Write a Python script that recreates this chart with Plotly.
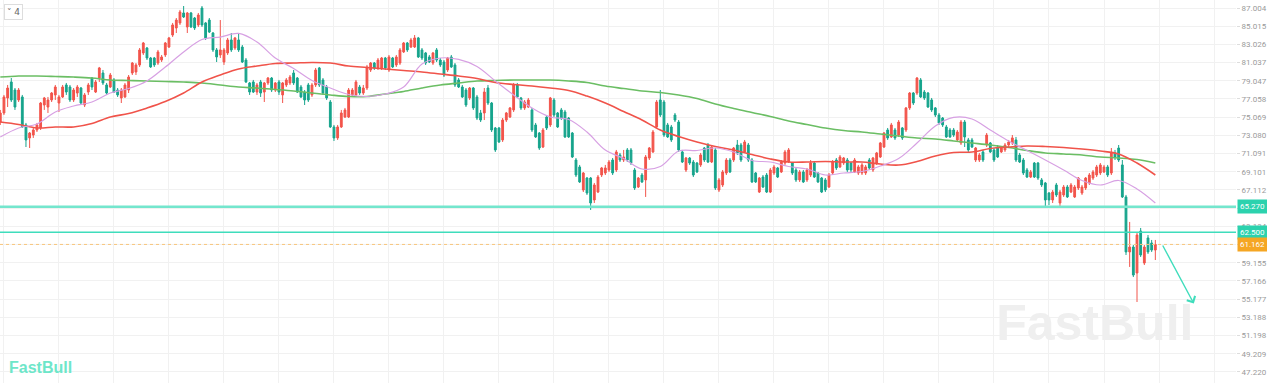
import plotly.graph_objects as go

# ---------------- data (prices) ----------------
opens = [
 74.54, 75.53, 77.17, 78.92, 78.04, 76.95, 77.28, 74.22, 72.80, 73.12, 73.67, 73.89, 76.40, 76.18, 76.95, 77.50, 76.62, 77.28, 78.59, 78.37,
 76.95, 77.71, 78.26, 76.40, 77.82, 79.35, 77.82, 79.35, 79.90, 78.59, 78.37, 79.14, 78.04, 77.17, 77.28, 78.04, 79.90, 80.01, 80.78, 82.09,
 82.63, 81.54, 81.54, 80.99, 81.32, 81.87, 82.74, 84.05, 84.82, 85.37, 86.46, 84.93, 86.46, 85.91, 85.15, 87.00, 85.37, 85.69, 84.27, 82.42,
 81.87, 81.10, 82.09, 83.51, 82.63, 83.51, 82.74, 81.32,
 78.81, 78.92, 77.82, 78.92, 77.82, 78.81, 79.35, 78.04, 78.92, 77.50, 78.59, 78.81, 79.90, 79.35, 78.37, 77.82, 78.59, 77.50, 78.59, 80.45,
 79.14, 78.37, 76.73, 74.00, 72.80, 74.00, 75.09, 75.09, 77.50, 77.50, 78.37, 77.71, 78.26, 80.23, 80.99, 80.45, 80.45, 81.54, 80.23, 81.54,
 80.78, 80.99, 82.20, 83.18, 82.74, 82.74, 83.73, 82.42, 82.09, 81.65, 80.99, 82.42, 81.32, 81.10, 80.23, 81.65, 80.78, 79.14, 78.37, 78.04,
 77.17, 78.26, 77.28, 75.53, 75.53,
 78.26, 76.62, 73.89, 73.89, 72.58, 74.76, 75.09, 75.86, 78.59, 77.17, 76.08, 76.18, 75.86, 74.22, 73.34, 71.81, 75.09, 74.22, 76.95, 75.53,
 75.86, 75.64, 74.98, 73.34, 70.39, 69.63, 67.11, 68.42, 68.42, 66.02, 66.89, 68.75, 68.97, 69.30, 70.39, 69.30, 70.94, 70.39, 71.49, 71.49,
 69.30, 67.44, 68.75, 68.21, 70.61, 71.27, 74.00, 76.95, 76.73, 74.22, 74.00, 75.31, 74.54, 71.27, 69.30, 70.61, 70.17, 70.06, 69.85, 71.70,
 72.03, 70.17, 71.49, 67.11, 67.66, 68.97,
 70.39, 70.39, 72.03, 72.03, 71.27, 72.03, 70.39, 68.97, 66.89, 68.53, 68.75, 66.89, 68.97, 69.52, 69.08, 70.06, 70.17, 70.06, 69.30, 68.21,
 69.08, 68.21, 68.75, 70.06, 68.97, 68.42, 68.21, 67.44, 68.97, 70.39, 69.63, 70.06, 70.39, 70.06, 69.08, 68.97, 68.97, 68.97, 70.39, 69.30,
 70.06, 70.72, 71.81, 73.67, 72.91, 73.67, 73.12, 73.89, 73.67, 76.08, 77.71, 77.71, 79.14, 77.82, 77.71, 76.95, 76.08, 75.31, 74.98, 74.00,
 73.67, 73.67, 72.58, 72.25, 74.54,
 72.58, 72.58, 70.39, 70.39, 71.27, 72.03, 72.25, 71.49, 71.81, 71.27, 71.49, 72.03, 72.25, 72.58, 70.94, 70.39, 69.30, 68.53, 70.06, 70.06,
 68.21, 67.88, 66.78, 66.02, 67.66, 65.69, 66.57, 67.44, 66.89, 66.35, 67.33, 66.78, 67.33, 67.88, 68.42, 68.75, 68.97, 69.08, 69.63, 68.97,
 71.16, 71.70, 69.85, 66.35, 60.34, 60.88, 58.04, 62.63, 59.13, 61.87, 61.32, 60.55,
]
highs = [
 75.86, 77.50, 78.59, 79.35, 78.26, 78.26, 77.50, 74.44, 73.45, 73.89, 74.44, 76.73, 77.28, 77.28, 77.82, 78.59, 77.50, 78.59, 78.81, 78.59,
 78.26, 78.59, 78.37, 77.71, 78.81, 79.46, 79.14, 80.56, 80.23, 78.81, 79.90, 79.35, 78.26, 78.26, 78.81, 79.68, 81.10, 80.99, 82.63, 83.29,
 82.74, 81.65, 81.65, 82.42, 81.87, 83.29, 83.84, 85.37, 85.91, 86.79, 87.22, 86.57, 86.57, 86.02, 86.46, 87.22, 85.48, 85.91, 84.38, 82.63,
 85.69, 82.63, 83.73, 84.27, 83.84, 84.27, 82.96, 81.54,
 78.92, 79.14, 78.81, 79.14, 78.92, 79.46, 79.46, 78.92, 79.14, 78.92, 79.35, 79.68, 80.23, 79.46, 78.59, 78.04, 78.81, 78.81, 80.45, 80.56,
 79.35, 78.59, 76.95, 74.22, 74.22, 75.86, 76.08, 78.26, 78.26, 79.14, 78.59, 78.59, 80.78, 81.10, 81.10, 81.54, 81.65, 81.65, 81.87, 81.65,
 81.87, 82.63, 83.29, 83.29, 83.73, 84.05, 83.84, 82.63, 82.20, 81.87, 82.20, 82.63, 81.54, 81.32, 81.65, 81.87, 80.99, 79.35, 78.59, 78.26,
 78.37, 78.37, 77.50, 75.86, 78.26,
 78.59, 76.73, 74.00, 74.00, 74.98, 75.64, 76.18, 78.81, 78.81, 77.28, 76.95, 77.17, 76.08, 74.44, 73.45, 73.89, 75.31, 77.28, 77.17, 75.64,
 76.08, 75.86, 75.09, 73.45, 70.61, 69.85, 69.08, 68.53, 68.53, 67.88, 68.75, 69.63, 69.85, 70.39, 70.61, 71.49, 71.16, 71.49, 71.70, 71.70,
 69.52, 68.53, 68.97, 70.94, 71.81, 73.67, 76.95, 78.04, 76.95, 74.44, 74.22, 75.53, 74.76, 71.49, 70.72, 70.72, 70.39, 70.17, 71.16, 71.81,
 72.25, 72.03, 71.70, 68.42, 69.30, 70.61,
 70.61, 71.81, 72.58, 72.25, 72.58, 72.25, 70.61, 69.08, 68.53, 68.75, 68.97, 69.52, 69.85, 69.63, 70.39, 71.49, 71.70, 70.17, 69.52, 69.30,
 69.30, 69.52, 70.39, 70.17, 69.08, 68.53, 68.42, 68.97, 70.39, 70.61, 70.94, 70.72, 70.61, 70.17, 70.61, 69.85, 70.06, 69.85, 70.61, 70.72,
 71.27, 72.36, 73.45, 73.89, 74.44, 73.89, 74.76, 74.00, 76.18, 77.82, 77.82, 79.46, 79.35, 78.04, 77.82, 77.17, 76.18, 75.53, 75.09, 74.22,
 73.89, 73.89, 73.67, 74.76, 74.76,
 72.80, 72.80, 71.81, 71.16, 71.49, 73.34, 72.36, 71.70, 72.03, 71.81, 72.25, 72.58, 73.12, 72.91, 71.16, 70.61, 69.52, 69.30, 70.17, 70.17,
 68.42, 67.99, 66.89, 67.11, 67.88, 67.11, 67.66, 67.66, 67.88, 67.66, 68.53, 67.66, 68.53, 68.97, 69.30, 69.85, 70.06, 69.85, 69.85, 71.70,
 71.49, 72.03, 70.39, 66.57, 63.62, 61.10, 62.41, 62.96, 61.10, 62.19, 61.65, 61.65,
]
lows = [
 74.22, 75.31, 76.18, 76.73, 75.86, 76.73, 73.89, 71.81, 71.70, 72.80, 73.45, 73.67, 75.86, 75.53, 76.73, 76.95, 75.64, 77.17, 77.50, 76.73,
 76.73, 77.28, 76.40, 76.18, 77.50, 78.04, 77.71, 78.92, 78.59, 77.50, 78.26, 77.71, 77.28, 76.62, 77.17, 77.71, 79.68, 79.68, 80.56, 81.87,
 81.32, 80.45, 80.56, 80.78, 81.10, 81.65, 82.63, 83.84, 84.27, 85.15, 85.91, 84.27, 84.82, 84.60, 84.93, 84.93, 83.51, 84.27, 82.20, 81.10,
 81.54, 80.78, 81.87, 82.20, 82.42, 82.20, 80.99, 78.81,
 77.50, 77.71, 77.50, 77.28, 76.73, 78.59, 77.82, 77.82, 77.50, 76.62, 78.37, 78.59, 78.59, 77.71, 77.17, 76.40, 76.73, 77.28, 78.37, 78.37,
 77.50, 76.95, 73.89, 72.47, 72.58, 73.89, 74.98, 74.98, 77.28, 77.28, 77.50, 77.50, 78.04, 80.01, 80.23, 80.23, 80.23, 80.23, 80.01, 80.45,
 80.56, 80.78, 82.09, 82.20, 82.63, 82.63, 81.54, 81.32, 80.78, 80.99, 80.78, 81.10, 80.56, 79.46, 80.01, 80.45, 78.37, 78.26, 77.17, 76.18,
 76.95, 75.86, 74.76, 74.54, 74.76,
 76.40, 73.45, 71.27, 72.25, 72.36, 74.54, 74.98, 75.64, 77.17, 75.86, 75.86, 76.08, 73.45, 72.80, 71.49, 71.70, 73.67, 74.00, 75.09, 73.89,
 74.76, 72.80, 72.80, 70.61, 68.53, 67.88, 66.89, 66.57, 64.93, 65.69, 66.78, 68.53, 68.75, 69.08, 68.75, 69.08, 70.17, 70.17, 70.17, 69.85,
 67.11, 67.33, 67.88, 66.35, 70.39, 71.16, 73.89, 75.09, 72.91, 72.80, 72.36, 74.54, 71.27, 70.06, 69.08, 69.85, 68.53, 68.97, 69.63, 70.17,
 70.06, 70.06, 67.11, 66.89, 67.44, 68.75,
 68.97, 70.17, 70.94, 70.17, 71.16, 70.17, 67.88, 67.88, 66.78, 67.33, 66.78, 66.78, 68.75, 68.42, 68.97, 69.85, 70.06, 68.75, 67.99, 67.99,
 67.88, 67.99, 68.53, 68.42, 67.88, 66.78, 66.89, 67.33, 68.75, 69.30, 69.52, 69.85, 69.08, 69.08, 68.97, 68.75, 68.75, 68.75, 69.30, 69.08,
 69.85, 70.61, 71.70, 72.58, 72.80, 72.58, 72.91, 72.58, 73.45, 75.86, 76.40, 77.50, 77.17, 76.95, 76.08, 75.64, 75.09, 74.22, 74.00, 72.80,
 72.80, 72.91, 72.36, 72.03, 71.81,
 71.27, 71.70, 70.17, 70.17, 70.17, 71.81, 71.16, 70.17, 70.61, 71.16, 71.27, 71.81, 72.03, 70.17, 70.06, 68.75, 68.42, 68.42, 68.42, 68.21,
 67.44, 65.15, 65.47, 65.69, 66.35, 65.15, 66.35, 66.24, 66.78, 66.24, 67.11, 66.57, 67.11, 67.66, 68.21, 68.53, 68.75, 68.97, 68.53, 68.75,
 70.39, 70.17, 66.24, 60.01, 58.70, 57.60, 54.87, 59.79, 58.91, 60.12, 60.34, 59.46,
]
closes = [
 75.53, 77.28, 78.26, 76.95, 76.18, 78.04, 74.00, 72.58, 73.34, 73.67, 74.22, 76.62, 77.17, 76.95, 77.71, 78.37, 77.28, 78.37, 77.82, 76.95,
 78.04, 78.37, 76.62, 77.50, 78.59, 78.37, 78.92, 80.45, 78.81, 77.71, 79.68, 77.82, 77.50, 78.04, 78.59, 79.46, 80.99, 80.78, 82.42, 83.18,
 81.54, 80.56, 80.78, 82.20, 81.65, 83.18, 83.73, 85.15, 85.69, 86.57, 86.02, 86.46, 84.93, 84.82, 86.24, 85.15, 83.73, 84.38, 82.42, 81.65,
 82.42, 82.42, 83.51, 82.42, 83.73, 82.42, 81.10, 78.92,
 77.82, 77.82, 78.59, 77.71, 78.81, 79.35, 78.04, 78.81, 77.82, 78.81, 79.14, 79.46, 78.81, 77.82, 77.28, 76.95, 76.95, 78.59, 80.23, 78.59,
 77.71, 77.17, 74.00, 72.80, 74.00, 75.53, 75.86, 78.04, 78.04, 78.92, 77.71, 78.26, 80.56, 80.99, 80.45, 81.32, 81.54, 80.45, 81.65, 80.56,
 81.65, 82.42, 83.18, 82.42, 83.51, 83.73, 81.65, 81.54, 80.99, 81.10, 82.09, 81.32, 80.78, 79.68, 81.54, 80.56, 78.59, 78.37, 77.28, 76.40,
 78.26, 76.08, 74.98, 74.76, 77.82,
 76.62, 73.67, 71.49, 72.36, 74.76, 75.53, 76.08, 78.59, 77.28, 76.08, 76.73, 76.95, 73.67, 72.91, 71.70, 73.67, 73.89, 77.17, 75.31, 74.00,
 74.98, 72.91, 72.91, 70.72, 68.75, 67.99, 68.97, 66.78, 65.69, 67.66, 68.53, 69.52, 69.52, 70.17, 68.97, 71.27, 70.39, 70.72, 70.39, 70.06,
 67.33, 68.42, 67.99, 70.72, 71.70, 73.45, 76.73, 75.31, 73.12, 72.91, 72.58, 74.76, 71.49, 70.17, 70.61, 70.06, 68.75, 69.08, 70.94, 70.39,
 70.17, 71.81, 67.33, 68.21, 69.08, 70.39,
 69.08, 71.70, 71.16, 70.39, 72.36, 70.39, 67.99, 67.99, 68.42, 67.44, 66.89, 69.30, 69.63, 68.53, 70.17, 71.27, 71.49, 68.97, 68.21, 69.08,
 67.99, 69.30, 70.06, 68.53, 67.99, 66.89, 67.11, 68.75, 70.17, 69.52, 70.72, 70.61, 69.30, 69.30, 70.39, 69.63, 69.85, 69.63, 69.52, 70.61,
 71.16, 72.25, 73.34, 72.80, 74.22, 72.80, 74.54, 72.80, 76.08, 77.71, 76.62, 79.35, 77.28, 77.17, 76.18, 75.86, 75.31, 74.44, 74.22, 72.91,
 72.91, 73.12, 73.45, 74.54, 72.91,
 71.49, 71.81, 71.70, 70.94, 70.39, 73.12, 71.27, 70.39, 70.72, 71.70, 72.03, 72.36, 72.80, 70.39, 70.17, 68.97, 68.53, 69.08, 68.53, 68.42,
 67.66, 66.02, 66.02, 66.89, 66.57, 66.89, 67.44, 66.35, 67.66, 67.44, 68.42, 67.44, 68.42, 68.75, 69.08, 69.63, 69.85, 69.63, 68.75, 71.16,
 70.72, 70.39, 66.35, 60.34, 60.88, 57.82, 62.19, 60.01, 60.88, 60.34, 60.55, 61.16,
]

# moving averages, sampled every 5th candle
ma_step = 5
ma_fast = [72.90, 73.89, 74.32, 75.64, 76.29, 76.73, 77.71, 78.20, 79.03, 80.55, 82.19, 83.56, 83.83, 84.22, 83.29, 81.54,
           80.39, 79.08, 78.26, 77.55, 77.33, 77.60, 78.37, 80.88, 81.54, 81.38, 80.61, 79.03, 77.50, 76.07, 75.09, 74.82,
           73.45, 71.48, 70.55, 69.41, 69.68, 71.37, 71.43, 71.70, 71.26, 70.34, 70.17, 69.68, 69.41, 68.75, 68.97, 69.13,
           69.73, 70.55, 72.25, 74.10, 75.04, 74.87, 73.67, 72.47, 71.43, 70.39, 69.30, 68.15, 67.66, 68.15, 67.22, 65.69]
ma_mid = [74.54, 74.27, 73.89, 74.00, 74.00, 74.38, 75.09, 75.47, 76.07, 76.78, 77.71, 78.91, 79.68, 80.34, 80.66, 80.94,
          80.99, 81.05, 80.99, 80.66, 80.50, 80.34, 80.17, 80.01, 79.79, 79.57, 79.30, 78.86, 78.64, 78.48, 78.26, 77.99,
          77.38, 76.62, 75.69, 74.76, 73.67, 72.96, 72.36, 71.87, 71.48, 70.99, 70.50, 70.17, 70.17, 70.23, 70.17, 70.17,
          69.95, 69.84, 70.23, 70.83, 71.21, 71.26, 71.65, 71.81, 71.92, 71.87, 71.76, 71.59, 71.37, 71.05, 70.06, 68.75]
ma_slow = [79.46, 79.57, 79.57, 79.52, 79.46, 79.35, 79.13, 79.08, 79.03, 78.97, 78.91, 78.81, 78.59, 78.37, 78.26, 78.10,
           77.93, 77.71, 77.50, 77.33, 77.33, 77.60, 77.88, 78.26, 78.59, 78.81, 79.03, 79.08, 79.13, 79.13, 79.13, 79.03,
           78.86, 78.48, 78.20, 77.93, 77.77, 77.50, 77.11, 76.51, 76.02, 75.58, 75.15, 74.65, 74.27, 73.89, 73.61, 73.45,
           73.23, 73.01, 72.79, 72.68, 72.47, 72.25, 72.03, 71.76, 71.43, 71.16, 71.05, 70.94, 70.72, 70.61, 70.44, 70.06]

support_levels = [65.270, 62.500]
last_price = 61.162
arrow_from = (316.8, 61.21)   # (candle index, price)
arrow_to = (325.5, 54.70)
watermark_at = (298.5, 52.1)  # (candle index, price)

tick_values = [87.004, 85.015, 83.026, 81.037, 79.047, 77.058, 75.069, 73.080, 71.091, 69.101, 67.112,
               65.123, 63.134, 61.145, 59.155, 57.166, 55.177, 53.188, 51.198, 49.209, 47.220]
tick_labels = ["%.3f" % v for v in tick_values]

# ---------------- styling ----------------
UP = "#F2544B"
DOWN = "#16A48C"
MINT = "#3FDDBC"
ORANGE = "#F5A623"
GRID = "#F1F1F1"

n = len(closes)
idx = list(range(n))
highs = [max(h, o, c) for h, o, c in zip(highs, opens, closes)]
lows = [min(l, o, c) for l, o, c in zip(lows, opens, closes)]

fig = go.Figure()

fig.add_trace(go.Scatter(x=[watermark_at[0]], y=[watermark_at[1]], mode="text", text=["<b>FastBull</b>"],
                         textfont=dict(family="Liberation Sans", size=50, color="#EFEFEF"),
                         hoverinfo="skip", showlegend=False))

ma_x = [i * ma_step for i in range(len(ma_fast))]
fig.add_trace(go.Scatter(x=ma_x, y=ma_slow, mode="lines", line=dict(color="#6BBE64", width=1.6, shape="spline"),
                         hoverinfo="skip", showlegend=False))
fig.add_trace(go.Scatter(x=ma_x, y=ma_mid, mode="lines", line=dict(color="#F0534A", width=1.6, shape="spline"),
                         hoverinfo="skip", showlegend=False))
fig.add_trace(go.Scatter(x=ma_x, y=ma_fast, mode="lines", line=dict(color="#D7A0E3", width=1.2, shape="spline"),
                         hoverinfo="skip", showlegend=False))

fig.add_trace(go.Candlestick(
    x=idx, open=opens, high=highs, low=lows, close=closes,
    increasing=dict(line=dict(color=UP, width=1), fillcolor=UP),
    decreasing=dict(line=dict(color=DOWN, width=1), fillcolor=DOWN),
    whiskerwidth=0, hoverinfo="skip", showlegend=False))

shapes = []
shapes.append(dict(type="line", xref="paper", x0=0, x1=1, yref="y", y0=last_price, y1=last_price,
                   line=dict(color="#F8C57C", width=1, dash="dot"), layer="above"))
shapes.append(dict(type="line", xref="paper", x0=0, x1=1, yref="y", y0=support_levels[0], y1=support_levels[0],
                   line=dict(color="#74E6CD", width=2.5), layer="above"))
shapes.append(dict(type="line", xref="paper", x0=0, x1=1, yref="y", y0=support_levels[1], y1=support_levels[1],
                   line=dict(color=MINT, width=1.6), layer="above"))

annotations = []
for lvl in support_levels:
    annotations.append(dict(xref="paper", x=1, xanchor="left", xshift=1, yref="y", y=lvl, yanchor="middle",
                            text="%.3f" % lvl, showarrow=False, bgcolor="#2CD2AE",
                            font=dict(family="Roboto", size=8, color="white"), borderpad=2))
annotations.append(dict(xref="paper", x=1, xanchor="left", xshift=1, yref="y", y=last_price, yanchor="middle",
                        text="%.3f" % last_price, showarrow=False, bgcolor=ORANGE,
                        font=dict(family="Roboto", size=8, color="white"), borderpad=2))
annotations.append(dict(x=arrow_to[0], y=arrow_to[1], ax=arrow_from[0], ay=arrow_from[1], xref="x", yref="y",
                        axref="x", ayref="y", text="", showarrow=True, arrowhead=4, arrowsize=1.3,
                        arrowwidth=1.4, arrowcolor=MINT))
annotations.append(dict(xref="paper", yref="paper", x=0.006, y=0.012, xanchor="left", yanchor="bottom",
                        text="<b>FastBull</b>", showarrow=False,
                        font=dict(family="Liberation Sans", size=16, color="#6EE6C9")))
annotations.append(dict(xref="paper", yref="paper", x=0.003, y=0.99, xanchor="left", yanchor="top",
                        text="˅ 4", showarrow=False, bgcolor="white", bordercolor="#DDDDDD", borderwidth=1,
                        borderpad=2, font=dict(family="DejaVu Sans", size=9, color="#666666")))

x_left = -0.08
x_right = 337.0
fig.update_layout(
    width=1267, height=383,
    margin=dict(l=0, r=31, t=0, b=0),
    paper_bgcolor="white", plot_bgcolor="white",
    showlegend=False,
    shapes=shapes, annotations=annotations,
    xaxis=dict(range=[x_left, x_right], showticklabels=False, showgrid=True, gridcolor=GRID, gridwidth=1,
               tick0=16, dtick=15, zeroline=False, rangeslider=dict(visible=False), showline=False, fixedrange=True),
    yaxis=dict(range=[46.016, 87.878], side="right", tickvals=tick_values, ticktext=tick_labels,
               showgrid=True, gridcolor=GRID, gridwidth=1, zeroline=False, ticks="outside", ticklen=3,
               tickcolor="#DDDDDD", tickfont=dict(family="Roboto", size=8, color="#9A9A9A"),
               showline=False, fixedrange=True),
)

fig.write_html("out.html", config={"displayModeBar": False, "staticPlot": True},
               post_script="document.body.style.margin='0';document.body.style.overflow='hidden';")
